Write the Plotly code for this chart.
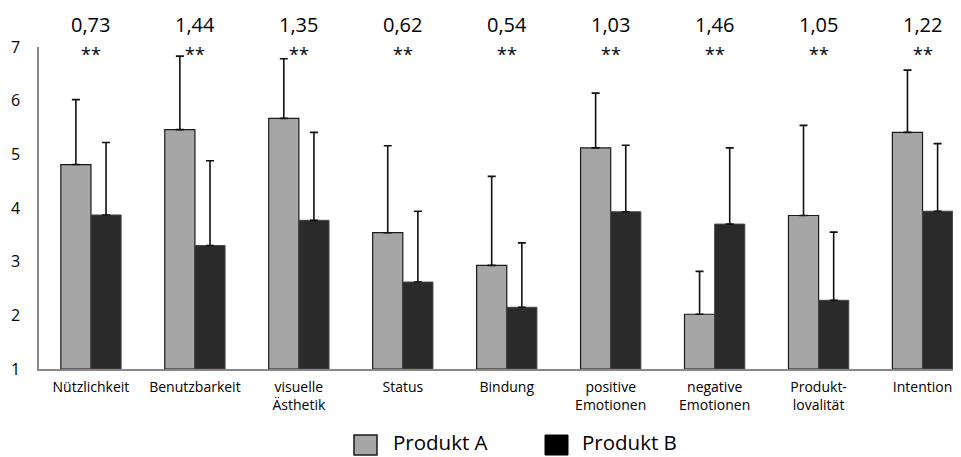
import plotly.graph_objects as go

categories = ["Nützlichkeit", "Benutzbarkeit", "visuelle<br>Ästhetik", "Status", "Bindung",
              "positive<br>Emotionen", "negative<br>Emotionen", "Produkt-<br>lovalität", "Intention"]
mean_a = [4.81, 5.46, 5.67, 3.54, 2.93, 5.12, 2.02, 3.86, 5.41]
sd_a = [1.21, 1.37, 1.11, 1.62, 1.66, 1.02, 0.80, 1.68, 1.16]
mean_b = [3.87, 3.30, 3.77, 2.62, 2.15, 3.93, 3.70, 2.28, 3.94]
sd_b = [1.35, 1.58, 1.64, 1.32, 1.20, 1.24, 1.42, 1.27, 1.26]
effect = ["0,73", "1,44", "1,35", "0,62", "0,54", "1,03", "1,46", "1,05", "1,22"]
signif = ["**"] * 9
series_names = ["Produkt A", "Produkt B"]

FONT = "Open Sans"
x_idx = list(range(len(categories)))

fig = go.Figure()
fig.add_trace(go.Bar(
    x=x_idx, y=[m - 1 for m in mean_a], base=1, name=series_names[0],
    marker=dict(color="#a6a6a6", line=dict(color="#1a1a1a", width=1.2)),
    error_y=dict(type="data", symmetric=False, array=sd_a, arrayminus=[0] * 9,
                 color="#111111", thickness=1.6, width=4),
))
fig.add_trace(go.Bar(
    x=x_idx, y=[m - 1 for m in mean_b], base=1, name=series_names[1],
    marker=dict(color="#2a2a2a", line=dict(color="#444444", width=1)),
    error_y=dict(type="data", symmetric=False, array=sd_b, arrayminus=[0] * 9,
                 color="#111111", thickness=1.6, width=4),
))

# screen pixel -> paper coords (page has 8px body offset)
OFF = 8
X0, Y0 = 39, 369
W, H = 922.0, 322.0
def px(x):
    return (x - X0) / W
def py(y):
    return (Y0 - y) / H

annotations = []
for i in x_idx:
    annotations.append(dict(x=i, y=py(25), xref="x", yref="paper", yanchor="middle", text=effect[i],
                            showarrow=False, font=dict(family=FONT, size=20, color="#000")))
    annotations.append(dict(x=i, y=py(54), xref="x", yref="paper", yanchor="middle", text=signif[i],
                            showarrow=False, font=dict(family=FONT, size=18, color="#000")))

shapes = [
    dict(type="rect", xref="paper", yref="paper", x0=px(354), x1=px(377), y0=py(455), y1=py(435),
         fillcolor="#a6a6a6", line=dict(color="#1a1a1a", width=1.5)),
    dict(type="rect", xref="paper", yref="paper", x0=px(545), x1=px(568), y0=py(455), y1=py(435),
         fillcolor="#000000", line=dict(color="#000000", width=1)),
]
annotations.append(dict(x=px(391), y=py(442), xref="paper", yref="paper", yanchor="middle",
                        text=series_names[0], xanchor="left", showarrow=False,
                        font=dict(family=FONT, size=20.5, color="#000")))
annotations.append(dict(x=px(580), y=py(442), xref="paper", yref="paper", yanchor="middle",
                        text=series_names[1], xanchor="left", showarrow=False,
                        font=dict(family=FONT, size=20.5, color="#000")))

fig.update_layout(
    width=961 - OFF, height=457 - OFF,
    margin=dict(l=X0 - OFF, r=0, t=47 - OFF, b=457 - Y0),
    paper_bgcolor="white", plot_bgcolor="white",
    barmode="group", bargap=0.42, bargroupgap=0,
    showlegend=False,
    annotations=annotations, shapes=shapes,
    font=dict(family=FONT, color="#000"),
)
fig.update_xaxes(
    range=[-0.5, 8.37], tickmode="array", tickvals=x_idx, ticktext=categories,
    showline=True, linecolor="#888888", linewidth=1.5, ticks="", showgrid=False,
    zeroline=False, ticklabelstandoff=4, tickfont=dict(family=FONT, size=14, color="#000"),
)
fig.update_yaxes(
    range=[1, 7], tickvals=[1, 2, 3, 4, 5, 6, 7], showline=True, linecolor="#888888",
    linewidth=1.5, ticks="", showgrid=False, zeroline=False, ticklabelstandoff=14,
    tickfont=dict(family=FONT, size=16, color="#000"),
)

fig.write_html("out.html")
